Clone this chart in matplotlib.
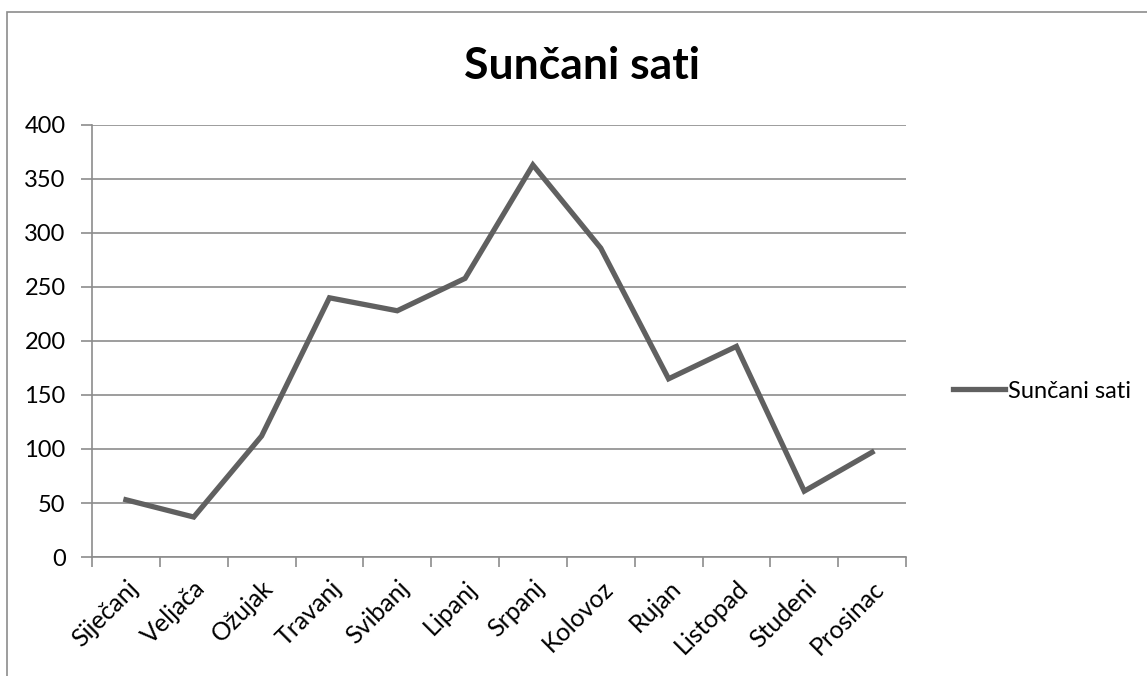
import matplotlib
matplotlib.use("Agg")
import matplotlib.pyplot as plt
from matplotlib.patches import Rectangle

months = ["Siječanj", "Veljača", "Ožujak", "Travanj", "Svibanj", "Lipanj",
          "Srpanj", "Kolovoz", "Rujan", "Listopad", "Studeni", "Prosinac"]
sun_hours = [53, 37, 112, 240, 228, 258, 363, 286, 165, 195, 61, 97]
y_ticks = [0, 50, 100, 150, 200, 250, 300, 350, 400]

plt.rcParams['font.family'] = ['Lato', 'DejaVu Sans']

W, H = 1147, 676
fig = plt.figure(figsize=(W / 100, H / 100), dpi=100)
fig.patch.set_facecolor("white")

# chart frame (cut off at right and bottom like the screenshot)
fig.patches.append(Rectangle((7 / W, -0.1), 1.2, (H - 12) / H + 0.1,
                             transform=fig.transFigure, fill=False,
                             edgecolor="#8c8c8c", lw=1.2))

ax = fig.add_axes([92 / W, (H - 557) / H, (906 - 92) / W, (557 - 125) / H])

x = [i + 0.5 for i in range(len(months))]
line, = ax.plot(x, sun_hours, color="#606060", lw=3.8, solid_joinstyle="miter",
                label="Sunčani sati")

ax.set_xlim(0, len(months))
ax.set_ylim(0, 400)
ax.set_yticks(y_ticks)
ax.set_xticks(range(len(months) + 1))
ax.set_xticklabels([])
ax.set_xticks(x, minor=True)
ax.set_xticklabels(months, minor=True, rotation=45, ha="right",
                   rotation_mode="anchor", fontsize=18)
ax.tick_params(axis="x", which="minor", length=0, pad=14)
ax.tick_params(axis="x", which="major", length=7, width=1.2, color="#8c8c8c")
ax.tick_params(axis="y", length=8, width=1.2, color="#8c8c8c", labelsize=17, pad=11)

ax.grid(axis="y", color="#8c8c8c", lw=1.2)
ax.set_axisbelow(True)
for s in ["top", "right"]:
    ax.spines[s].set_visible(False)
for s in ["left", "bottom"]:
    ax.spines[s].set_color("#8c8c8c")
    ax.spines[s].set_linewidth(1.2)

fig.text(582 / W, (H - 79) / H, "Sunčani sati", ha="center", va="baseline",
         fontsize=32, fontweight="bold")

fig.legend(handles=[line], loc="center left",
           bbox_to_anchor=(944 / W, (H - 391) / H), frameon=False,
           fontsize=17, handlelength=2.2, handletextpad=0.1, borderaxespad=0)

fig.savefig("out.png", dpi=100)
